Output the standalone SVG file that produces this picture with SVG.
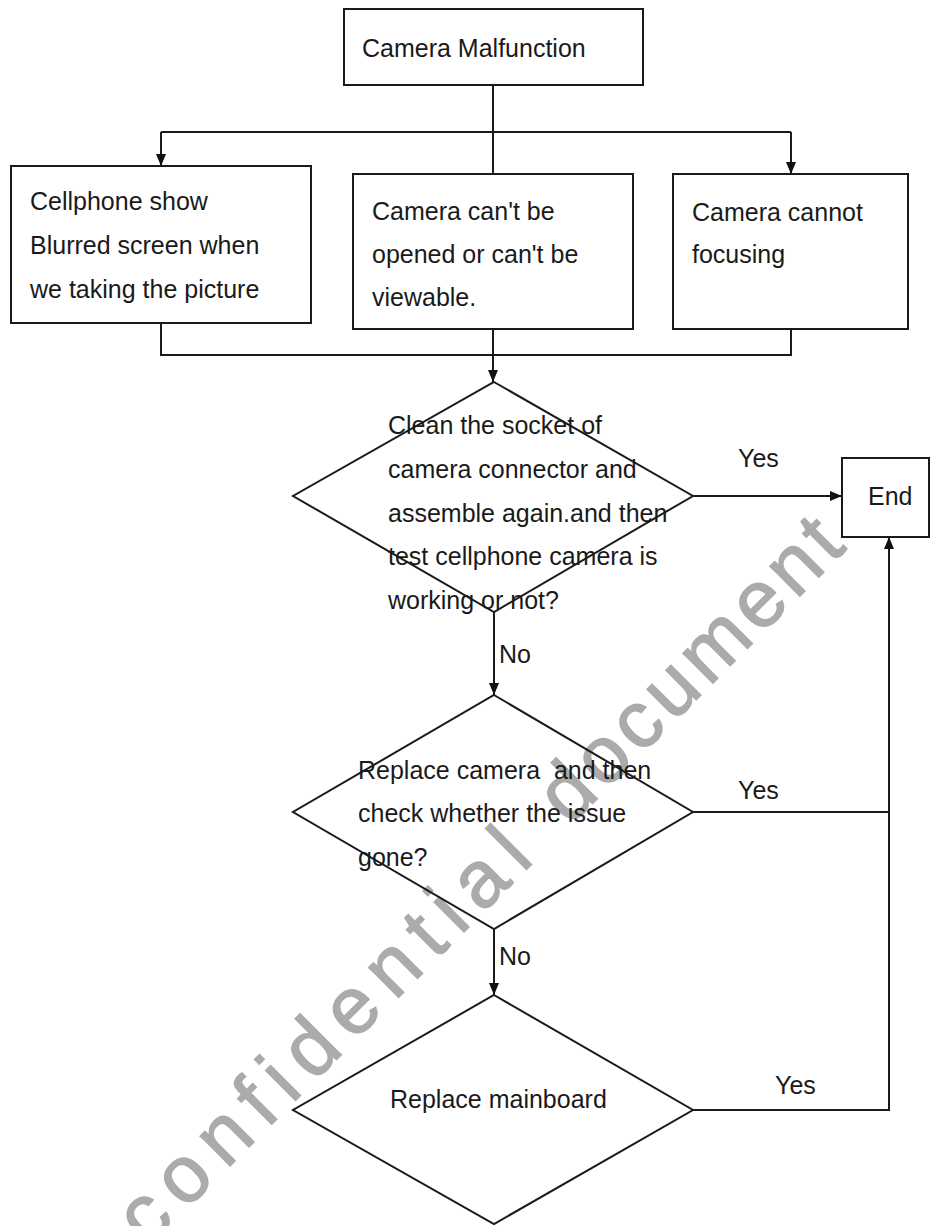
<svg xmlns="http://www.w3.org/2000/svg" width="931" height="1226" viewBox="0 0 931 1226">
<defs>
<marker id="arr" markerWidth="12" markerHeight="12" viewBox="0 0 12 12" refX="12" refY="6" orient="auto" markerUnits="userSpaceOnUse">
<path d="M0,1 L12,6 L0,11 Z" fill="#111"/>
</marker>
<style>
.box{fill:none;stroke:#1a1a1a;stroke-width:2}
.con{fill:none;stroke:#1a1a1a;stroke-width:2}
.t{font-family:"Liberation Sans",Arial,sans-serif;font-size:25px;fill:#1a1a1a}
.wm{font-family:"Liberation Sans",Arial,sans-serif;font-size:80px;fill:#ababab;stroke:#ababab;stroke-width:1.5}
</style>
</defs>
<rect width="931" height="1226" fill="#fff"/>
<text class="wm" transform="translate(148,1248) rotate(-45)"><tspan letter-spacing="13">confidential </tspan><tspan letter-spacing="6">document</tspan></text>
<g id="connectors">
<path class="con" d="M493,85 V132 M161,132 H791 M493,132 V174"/>
<path class="con" d="M161,132 V166" marker-end="url(#arr)"/>
<path class="con" d="M791,132 V174" marker-end="url(#arr)"/>
<path class="con" d="M161,323 V355 H791 V329"/>
<path class="con" d="M493,329 V382" marker-end="url(#arr)"/>
<path class="con" d="M693,496 H842" marker-end="url(#arr)"/>
<path class="con" d="M494,612 V695" marker-end="url(#arr)"/>
<path class="con" d="M494,929 V995" marker-end="url(#arr)"/>
<path class="con" d="M693,812 H889 M693,1110 H889 V537" marker-end="url(#arr)"/>
<text class="t" x="738" y="467">Yes</text>
<text class="t" x="499" y="663">No</text>
<text class="t" x="738" y="799">Yes</text>
<text class="t" x="499" y="965">No</text>
<text class="t" x="775" y="1094">Yes</text>
</g>
<g id="start">
<rect class="box" x="344" y="9" width="299" height="76"/>
<text class="t" x="362" y="57">Camera Malfunction</text>
</g>
<g id="symptom1">
<rect class="box" x="11" y="166" width="300" height="157"/>
<text class="t" x="30" y="210">Cellphone show</text>
<text class="t" x="30" y="254">Blurred screen when</text>
<text class="t" x="30" y="298">we taking the picture</text>
</g>
<g id="symptom2">
<rect class="box" x="353" y="174" width="280" height="155"/>
<text class="t" x="372" y="220">Camera can't be</text>
<text class="t" x="372" y="263">opened or can't be</text>
<text class="t" x="372" y="306">viewable.</text>
</g>
<g id="symptom3">
<rect class="box" x="673" y="174" width="235" height="155"/>
<text class="t" x="692" y="221">Camera cannot</text>
<text class="t" x="692" y="263">focusing</text>
</g>
<g id="decision1">
<polygon class="box" points="494,382 693,496 494,612 293,496"/>
<text class="t" x="388" y="434">Clean the socket of</text>
<text class="t" x="388" y="478">camera connector and</text>
<text class="t" x="388" y="522">assemble again.and then</text>
<text class="t" x="388" y="565">test cellphone camera is</text>
<text class="t" x="388" y="609">working or not?</text>
</g>
<g id="end">
<rect class="box" x="842" y="458" width="87" height="79"/>
<text class="t" x="868" y="505">End</text>
</g>
<g id="decision2">
<polygon class="box" points="494,695 693,812 494,929 293,812"/>
<text class="t" x="358" y="779" xml:space="preserve">Replace camera  and then</text>
<text class="t" x="358" y="822">check whether the issue</text>
<text class="t" x="358" y="866">gone?</text>
</g>
<g id="decision3">
<polygon class="box" points="494,995 693,1110 494,1224 293,1110"/>
<text class="t" x="390" y="1108">Replace mainboard</text>
</g>
</svg>
